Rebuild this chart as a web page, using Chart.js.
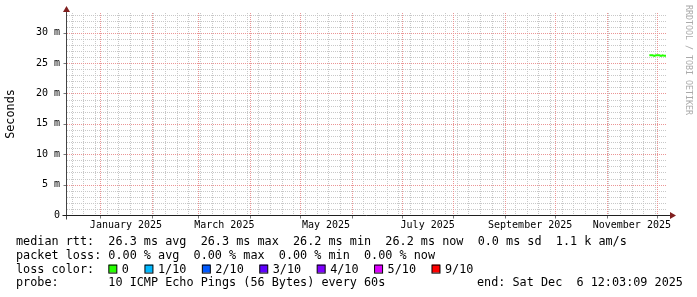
<!DOCTYPE html>
<html>

<head>
    <meta charset="utf-8">
    <title>Smokeping RTT</title>
    <script src="https://cdn.jsdelivr.net/npm/chart.js@4.4.1/dist/chart.umd.min.js"></script>
    <style>
        body { margin: 0; background: #fff; }
    </style>
</head>

<body>
    <canvas id="rttChart" width="697" height="297"></canvas>
    <script>
        // time range of the graph: last 360 days before the end stamp (UTC)
        const endTime = Date.UTC(2025, 11, 6, 12, 3, 9)
        const spanDays = 360
        const startTime = endTime - spanDays * 86400000

        // median rtt samples (ms)
        const rttTimes = ['2025-11-26T12:00:00Z', '2025-11-27T12:00:00Z', '2025-11-28T12:00:00Z', '2025-11-29T12:00:00Z',
            '2025-11-30T12:00:00Z', '2025-12-01T12:00:00Z', '2025-12-02T12:00:00Z', '2025-12-03T12:00:00Z',
            '2025-12-04T12:00:00Z', '2025-12-05T12:00:00Z', '2025-12-06T12:03:09Z']
        const rttValues = [26.3, 26.3, 26.3, 26.2, 26.3, 26.3, 26.3, 26.2, 26.3, 26.2, 26.2]

        // axis ticks
        const yTicks = [0, 5, 10, 15, 20, 25, 30]
        const yMax = 33.25
        const xLabelMonths = ['2025-01', '2025-03', '2025-05', '2025-07', '2025-09', '2025-11']
        const monthNames = ['January', 'February', 'March', 'April', 'May', 'June', 'July',
            'August', 'September', 'October', 'November', 'December']

        // legend texts
        const rttStats = ['26.3 ms avg', '26.3 ms max', '26.2 ms min', '26.2 ms now', '0.0 ms sd', '1.1 k am/s']
        const lossStats = ['0.00 % avg', '0.00 % max', '0.00 % min', '0.00 % now']
        const lossLabels = ['0', '1/10', '2/10', '3/10', '4/10', '5/10', '9/10']
        const lossColors = ['#26ff00', '#00b8ff', '#0059ff', '#5e00ff', '#7e00ff', '#dd00ff', '#ff0000']
        const probeText = '10 ICMP Echo Pings (56 Bytes) every 60s'
        const endText = 'end: Sat Dec  6 12:03:09 2025'

        const mono = '"DejaVu Sans Mono", monospace'

        function monthStart(y, m) { return Date.UTC(y, m, 1) }
        function midMonth(s) {
            const [y, m] = s.split('-').map(Number)
            return (monthStart(y, m - 1) + monthStart(y, m)) / 2
        }

        // dotted grid line: one pixel on, one off
        function dotted(c, color, segs) {
            c.fillStyle = color
            segs.forEach(([x1, y1, x2, y2]) => {
                if (y1 === y2) {
                    for (let x = x1; x <= x2; x += 2) c.fillRect(x, y1, 1, 1)
                } else {
                    for (let y = y1; y <= y2; y += 2) c.fillRect(x1, y, 1, 1)
                }
            })
        }

        const rrdPlugin = {
            id: 'rrd',
            beforeDraw(chart) {
                const c = chart.ctx
                c.save()
                c.fillStyle = '#fff'
                c.fillRect(0, 0, chart.width, chart.height)
                c.restore()
            },
            beforeDatasetsDraw(chart) {
                const c = chart.ctx
                const a = chart.chartArea
                const xs = chart.scales.x, ys = chart.scales.y
                const L = Math.round(a.left) + 1, R = Math.round(a.right)
                const T = Math.round(a.top), B = Math.round(a.bottom) - 1
                c.save()
                // minor grid: every 1 ms, every week (Sunday)
                const minor = []
                for (let v = 1; v <= yMax; v++) {
                    if (v % 5 === 0) continue
                    const y = Math.round(ys.getPixelForValue(v))
                    minor.push([L, y, R, y])
                }
                for (let t = Date.UTC(2024, 11, 15); t < endTime; t += 7 * 86400000) {
                    if (t <= startTime) continue
                    const x = Math.round(xs.getPixelForValue(t))
                    minor.push([x, T, x, B])
                }
                dotted(c, '#c8c8c8', minor)
                // major grid: every 5 ms, every month
                const major = []
                yTicks.forEach(v => {
                    if (v === 0) return
                    const y = Math.round(ys.getPixelForValue(v))
                    major.push([L, y, R, y])
                })
                for (let m = 0; m < 12; m++) {
                    const x = Math.round(xs.getPixelForValue(monthStart(2025, m)))
                    major.push([x, T, x, B])
                }
                dotted(c, '#eb9595', major)
                c.restore()
            },
            afterDraw(chart) {
                const c = chart.ctx
                const a = chart.chartArea
                const xs = chart.scales.x, ys = chart.scales.y
                const ax = Math.round(a.left) + 0.5
                const ay = Math.round(a.bottom) + 0.5
                c.save()
                // small tick marks
                c.strokeStyle = '#777'
                c.lineWidth = 1
                c.beginPath()
                yTicks.forEach(v => {
                    const y = Math.round(ys.getPixelForValue(v)) + 0.5
                    c.moveTo(ax - 3, y); c.lineTo(ax, y)
                })
                for (let m = 0; m < 12; m++) {
                    const x = Math.round(xs.getPixelForValue(monthStart(2025, m))) + 0.5
                    c.moveTo(x, ay); c.lineTo(x, ay + 3)
                }
                c.stroke()
                // axes
                c.strokeStyle = '#444'
                c.beginPath()
                c.moveTo(ax, a.top - 1); c.lineTo(ax, ay + 4)
                c.stroke()
                c.strokeStyle = '#1f1f1f'
                c.beginPath()
                c.moveTo(ax - 4, ay); c.lineTo(a.right + 4, ay)
                c.stroke()
                // arrows
                c.fillStyle = '#801f1f'
                c.beginPath()
                c.moveTo(ax, a.top - 7); c.lineTo(ax - 3.5, a.top - 1); c.lineTo(ax + 3.5, a.top - 1)
                c.closePath(); c.fill()
                c.beginPath()
                c.moveTo(a.right + 10, ay); c.lineTo(a.right + 4, ay - 3.5); c.lineTo(a.right + 4, ay + 3.5)
                c.closePath(); c.fill()
                // y axis title
                c.fillStyle = '#000'
                c.font = '11.8px ' + mono
                c.textAlign = 'center'
                c.textBaseline = 'middle'
                c.save()
                c.translate(11, (a.top + a.bottom) / 2)
                c.rotate(-Math.PI / 2)
                c.fillText('Seconds', 0, 0)
                c.restore()
                // watermark
                c.save()
                c.fillStyle = '#aaaaaa'
                c.font = '8.3px ' + mono
                c.textAlign = 'left'
                c.textBaseline = 'alphabetic'
                c.translate(686, 5)
                c.rotate(Math.PI / 2)
                c.fillText('RRDTOOL / TOBI OETIKER', 0, 0)
                c.restore()
                // legend block
                c.font = '11.8px ' + mono
                c.textAlign = 'left'
                c.textBaseline = 'alphabetic'
                const cw = c.measureText('0').width
                const x0 = 16
                const col = x0 + 13 * cw
                const lines = [245, 258.8, 272.6, 286.4]
                c.fillText('median rtt:', x0, lines[0])
                c.fillText(rttStats.join('  '), col, lines[0])
                c.fillText('packet loss:', x0, lines[1])
                c.fillText(lossStats.join('  '), col, lines[1])
                c.fillText('loss color:', x0, lines[2])
                let bx = col
                lossLabels.forEach((lab, i) => {
                    c.fillStyle = lossColors[i]
                    c.fillRect(bx + 0.5, lines[2] - 8, 8, 8)
                    c.strokeStyle = '#000'
                    c.lineWidth = 1
                    c.strokeRect(bx + 0.5, lines[2] - 8 + 0.5, 8, 8)
                    c.fillStyle = '#000'
                    c.fillText(lab, bx + 13.5, lines[2])
                    bx += 13.5 + lab.length * cw + 15.5
                })
                c.fillText('probe:', x0, lines[3])
                c.fillText(probeText, col, lines[3])
                c.fillText(endText, 477, lines[3])
                c.restore()
            }
        }

        const rttData = rttTimes.map((t, i) => ({ x: Date.parse(t), y: rttValues[i] }))

        const config = {
            type: 'line',
            data: {
                datasets: [{
                    label: 'median rtt',
                    data: rttData,
                    borderColor: lossColors[0],
                    borderWidth: 2,
                    pointRadius: 0,
                    tension: 0,
                    fill: false
                }]
            },
            options: {
                responsive: false,
                animation: false,
                devicePixelRatio: 1,
                layout: { padding: { left: 0, top: 13, right: 31, bottom: 0 } },
                plugins: { legend: { display: false }, tooltip: { enabled: false } },
                scales: {
                    x: {
                        type: 'linear',
                        min: startTime,
                        max: endTime,
                        grid: { display: false, drawTicks: false },
                        border: { display: false },
                        afterBuildTicks: axis => { axis.ticks = xLabelMonths.map(m => ({ value: midMonth(m) })) },
                        afterFit: axis => { axis.height = 82 },
                        ticks: {
                            autoSkip: false,
                            maxRotation: 0,
                            padding: 4,
                            color: '#000',
                            font: { family: mono, size: 10 },
                            callback: v => {
                                const d = new Date(v)
                                return monthNames[d.getUTCMonth()] + ' ' + d.getUTCFullYear()
                            }
                        }
                    },
                    y: {
                        min: 0,
                        max: yMax,
                        grid: { display: false, drawTicks: false },
                        border: { display: false },
                        afterBuildTicks: axis => { axis.ticks = yTicks.map(v => ({ value: v })) },
                        afterFit: axis => { axis.width = 66 },
                        ticks: {
                            padding: 6,
                            color: '#000',
                            font: { family: mono, size: 10 },
                            callback: v => v === 0 ? '0' : v + ' m'
                        }
                    }
                }
            },
            plugins: [rrdPlugin]
        }

        const rttChart = new Chart(document.getElementById('rttChart').getContext('2d'), config)
    </script>
</body>

</html>
